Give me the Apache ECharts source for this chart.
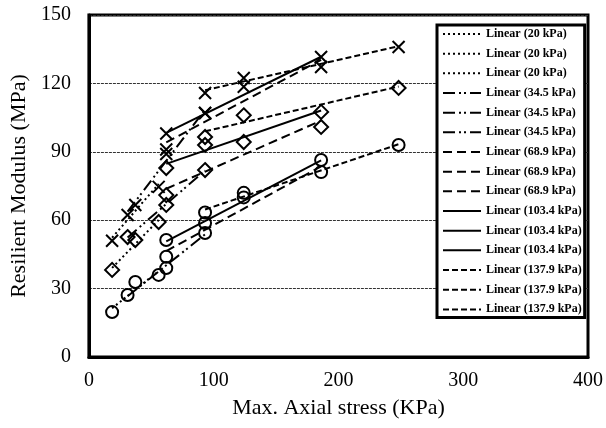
<!DOCTYPE html>
<html>
<head>
<meta charset="utf-8">
<script src="https://cdn.jsdelivr.net/npm/echarts@6/dist/echarts.min.js"></script>
<style>
html,body{margin:0;padding:0;background:#fff;}
#chart{width:606px;height:428px;}
</style>
</head>
<body>
<div id="chart"></div>
<script>
// Max. axial stress (kPa) of the test sequences, per confining pressure
const stress20   = [18.6, 37.2, 55.9];
const stress345  = [31.0, 62.0, 93.1];
const stress689  = [62.0, 124.1, 186.1];
const stress1034 = [62.0, 93.1, 186.1];
const stress1379 = [93.1, 124.1, 248.2];

// Resilient modulus (MPa) - sample marked with crosses
const crossMr20   = [51.0, 66.7, 74.6];
const crossMr345  = [62.3, 89.0, 107.0];
const crossMr689  = [91.0, 118.5, 127.2];
const crossMr1034 = [98.0, 107.0, 131.6];
const crossMr1379 = [115.8, 122.4, 136.0];

// Resilient modulus (MPa) - sample marked with diamonds
const diamondMr20   = [38.2, 51.3, 59.2];
const diamondMr345  = [52.6, 66.7, 82.0];
const diamondMr689  = [71.0, 94.3, 100.9];
const diamondMr1034 = [82.9, 93.0, 107.5];
const diamondMr1379 = [96.5, 106.0, 118.0];

// Resilient modulus (MPa) - sample marked with circles
const circleMr20   = [19.7, 32.9, 36.0];
const circleMr345  = [27.2, 39.0, 54.4];
const circleMr689  = [44.0, 70.0, 81.1];
const circleMr1034 = [51.3, 58.8, 86.4];
const circleMr1379 = [63.4, 72.0, 93.0];

const pressureLabels = ['20 kPa', '34.5 kPa', '68.9 kPa', '103.4 kPa', '137.9 kPa'];
const xTicks = [0, 100, 200, 300, 400];
const yTicks = [0, 30, 60, 90, 120, 150];

const stresses = [stress20, stress345, stress689, stress1034, stress1379];
const samples = [
  [crossMr20, crossMr345, crossMr689, crossMr1034, crossMr1379],
  [diamondMr20, diamondMr345, diamondMr689, diamondMr1034, diamondMr1379],
  [circleMr20, circleMr345, circleMr689, circleMr1034, circleMr1379]
];

const dashTypes = [[2, 3], [12, 4, 2, 3, 2, 4], [9, 5], 'solid', [6, 3]];
const symbols = ['path://M0,0L10,10M0,10L10,0', 'diamond', 'circle'];
const symbolSizes = [12, 14, 12];
const FONT = 'Liberation Serif';

function fit(xs, ys) {
  const n = xs.length;
  const mx = xs.reduce((a, b) => a + b, 0) / n;
  const my = ys.reduce((a, b) => a + b, 0) / n;
  let sxy = 0, sxx = 0;
  for (let i = 0; i < n; i++) { sxy += (xs[i] - mx) * (ys[i] - my); sxx += (xs[i] - mx) * (xs[i] - mx); }
  const b = sxy / sxx, a = my - b * mx;
  const x0 = Math.min(...xs), x1 = Math.max(...xs);
  return [[x0, a + b * x0], [x1, a + b * x1]];
}

const series = [];
const legendNames = [];
pressureLabels.forEach((p, pi) => {
  samples.forEach((s, si) => {
    const name = 'Linear (' + p + ')|' + si;
    legendNames.push(name);
    series.push({
      type: 'line', name: name, data: fit(stresses[pi], s[pi]),
      symbol: 'none', showSymbol: false, silent: true, z: 3,
      itemStyle: { color: '#000' },
      lineStyle: { color: '#000', width: 2, type: dashTypes[pi] }
    });
  });
});
samples.forEach((s, si) => {
  const pts = [];
  stresses.forEach((xs, pi) => xs.forEach((x, k) => pts.push([x, s[pi][k]])));
  series.push({
    type: 'scatter', name: 'sample' + si, data: pts,
    symbol: symbols[si], symbolSize: symbolSizes[si], z: 4,
    itemStyle: { color: 'rgba(0,0,0,0)', borderColor: '#000', borderWidth: 2, opacity: 1 }
  });
});

const chart = echarts.init(document.getElementById('chart'), null, { renderer: 'canvas' });
chart.setOption({
  animation: false,
  backgroundColor: '#fff',
  textStyle: { fontFamily: FONT, color: '#000' },
  grid: { left: 87, right: 14, top: 15, bottom: 71, show: true, borderColor: '#000', borderWidth: 3, backgroundColor: 'transparent' },
  legend: {
    data: legendNames, orient: 'vertical', left: 437, top: 25,
    padding: [3, 3, 2, 5], itemWidth: 38, itemHeight: 14, itemGap: 7.67,
    backgroundColor: '#fff', borderColor: '#000', borderWidth: 3, selectedMode: false,
    itemStyle: { color: 'rgba(0,0,0,0)', borderWidth: 0, opacity: 0 },
    formatter: n => n.split('|')[0],
    textStyle: { fontFamily: FONT, fontWeight: 'bold', fontSize: 12, color: '#000' }
  },
  xAxis: {
    type: 'value', min: xTicks[0], max: xTicks[xTicks.length - 1], interval: xTicks[1] - xTicks[0],
    name: 'Max. Axial stress (KPa)', nameLocation: 'middle', nameGap: 40,
    nameTextStyle: { fontFamily: FONT, fontSize: 22, color: '#000' },
    axisLine: { show: true, onZero: false, lineStyle: { color: '#000', width: 3 } },
    axisTick: { show: false }, splitLine: { show: false },
    axisLabel: { fontFamily: FONT, fontSize: 20, color: '#000', margin: 14 }
  },
  yAxis: {
    type: 'value', min: yTicks[0], max: yTicks[yTicks.length - 1], interval: yTicks[1] - yTicks[0],
    name: 'Resilient Modulus (MPa)', nameLocation: 'middle', nameGap: 53,
    nameTextStyle: { fontFamily: FONT, fontSize: 22, color: '#000' },
    axisLine: { show: true, lineStyle: { color: '#000', width: 3 } },
    axisTick: { show: false },
    splitLine: { show: true, lineStyle: { color: '#333', width: 1, type: [3, 1] } },
    axisLabel: { fontFamily: FONT, fontSize: 20, color: '#000', margin: 18 }
  },
  series: series
});
</script>
</body>
</html>
